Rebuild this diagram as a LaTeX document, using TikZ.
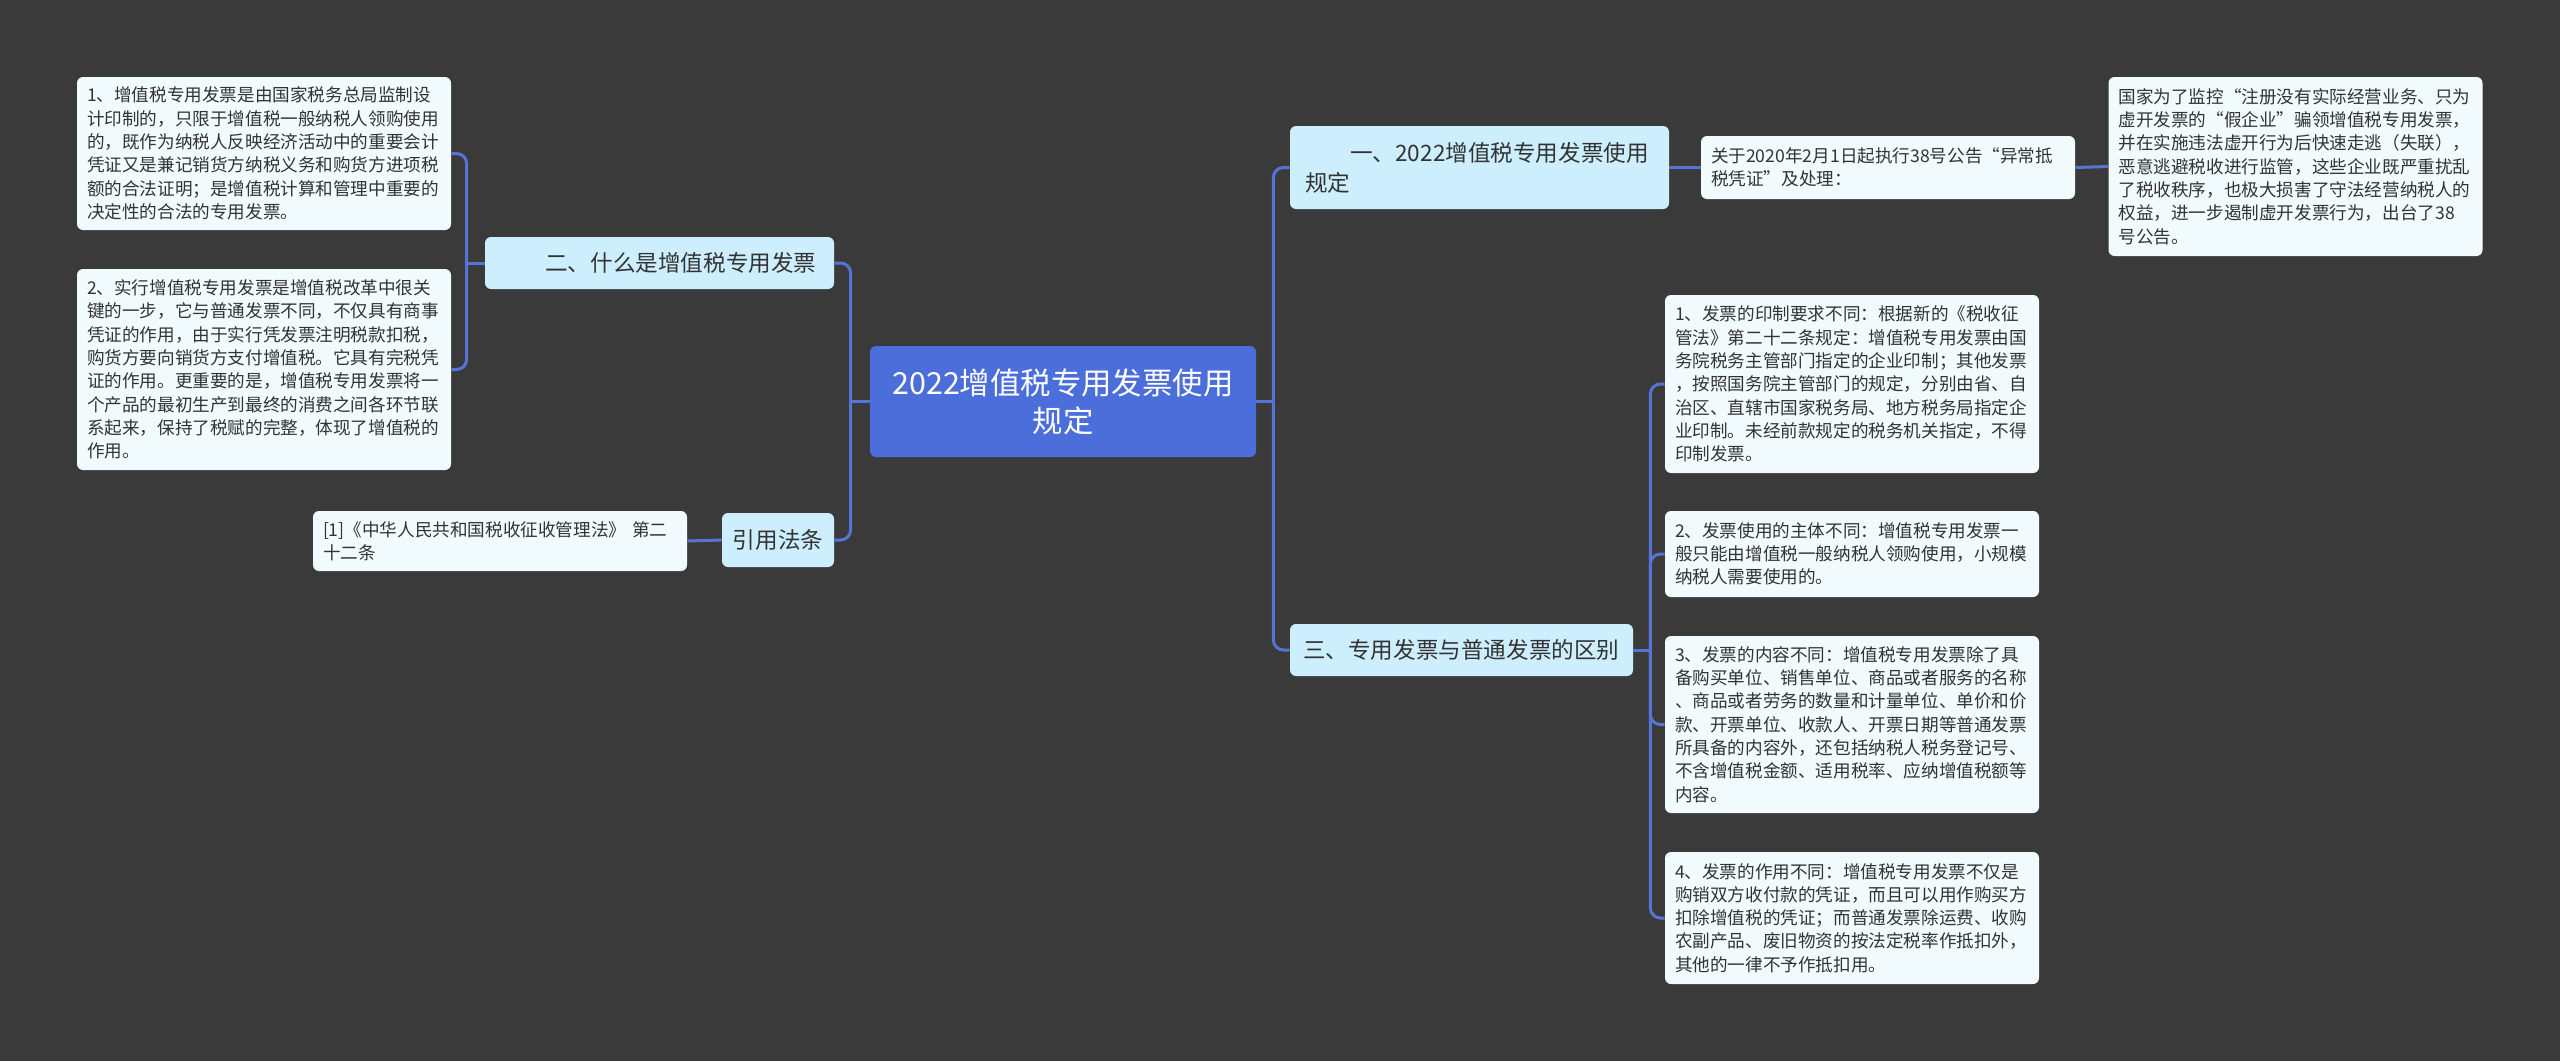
\documentclass[tikz,border=0pt]{standalone}
\usepackage{fontspec}
\setmainfont{Noto Sans CJK SC}
\definecolor{color_canvas}{HTML}{3A3A3A}
\definecolor{color_root}{HTML}{4C6EDB}
\definecolor{color_branch}{HTML}{CCEEFD}
\definecolor{color_leaf}{HTML}{F1FAFC}
\definecolor{color_link}{HTML}{5673D6}
\definecolor{color_text}{HTML}{333333}
\tikzset{
  map_root/.style={fill=color_root, text=white, rounded corners=3pt, align=center, text width=177pt, inner xsep=8pt, minimum height=55.5pt, font=\fontsize{15.2pt}{19pt}\selectfont},
  map_branch/.style={fill=color_branch, text=color_text, rounded corners=3pt, align=left, inner xsep=7.5pt, font=\fontsize{11.3pt}{15pt}\selectfont},
  map_leaf/.style={fill=color_leaf, text=color_text, rounded corners=3pt, align=left, text width=177pt, inner xsep=5pt, font=\fontsize{8.8pt}{11.65pt}\selectfont},
  map_link/.style={draw=color_link, line width=1.5pt, rounded corners=5pt},
}

\begin{document}
\begin{tikzpicture}[x=0.5pt, y=-0.5pt]
    \fill[color_canvas] (0,0) rectangle (2560,1061);
    \useasboundingbox (0,0) rectangle (2560,1061);

    \node[map_root] (core) at (1063,401.5) {2022增值税专用发票使用\\规定};

    % left side
    \node[map_branch, text width=159.5pt, minimum height=26pt] (what) at (659.5,263) {\hspace*{2em}二、什么是增值税专用发票};
    \node[map_branch, align=center, text width=46pt, inner xsep=5pt, minimum height=27pt] (cite) at (778,540) {引用法条};
    \node[map_leaf, minimum height=76.5pt] (what_a) at (264,153.5) {1、增值税专用发票是由国家税务总局监制设\\计印制的，只限于增值税一般纳税人领购使用\\的，既作为纳税人反映经济活动中的重要会计\\凭证又是兼记销货方纳税义务和购货方进项税\\额的合法证明；是增值税计算和管理中重要的\\决定性的合法的专用发票。};
    \node[map_leaf, minimum height=100.5pt] (what_b) at (264,369.5) {2、实行增值税专用发票是增值税改革中很关\\键的一步，它与普通发票不同，不仅具有商事\\凭证的作用，由于实行凭发票注明税款扣税，\\购货方要向销货方支付增值税。它具有完税凭\\证的作用。更重要的是，增值税专用发票将一\\个产品的最初生产到最终的消费之间各环节联\\系起来，保持了税赋的完整，体现了增值税的\\作用。};
    \node[map_leaf, minimum height=30pt] (cite_a) at (500,541) {[1]《中华人民共和国税收征收管理法》 第二\\十二条};

    % right side
    \node[map_branch, text width=174.5pt, minimum height=41.5pt] (rule) at (1479.5,167.5) {\hspace*{2em}一、2022增值税专用发票使用\\规定};
    \node[map_leaf, minimum height=31.5pt] (rule_a) at (1888,167.5) {关于2020年2月1日起执行38号公告“异常抵\\税凭证”及处理：};
    \node[map_leaf, minimum height=89.5pt] (rule_b) at (2295.5,166.5) {国家为了监控“注册没有实际经营业务、只为\\虚开发票的“假企业”骗领增值税专用发票，\\并在实施违法虚开行为后快速走逃（失联），\\恶意逃避税收进行监管，这些企业既严重扰乱\\了税收秩序，也极大损害了守法经营纳税人的\\权益，进一步遏制虚开发票行为，出台了38\\号公告。};
    \node[map_branch, text width=158.5pt, inner xsep=6.5pt, minimum height=26pt] (diff) at (1461.5,650) {三、专用发票与普通发票的区别};
    \node[map_leaf, minimum height=89pt] (diff_a) at (1852,384) {1、发票的印制要求不同：根据新的《税收征\\管法》第二十二条规定：增值税专用发票由国\\务院税务主管部门指定的企业印制；其他发票\\，按照国务院主管部门的规定，分别由省、自\\治区、直辖市国家税务局、地方税务局指定企\\业印制。未经前款规定的税务机关指定，不得\\印制发票。};
    \node[map_leaf, minimum height=43pt] (diff_b) at (1852,554) {2、发票使用的主体不同：增值税专用发票一\\般只能由增值税一般纳税人领购使用，小规模\\纳税人需要使用的。};
    \node[map_leaf, minimum height=88.5pt] (diff_c) at (1852,724.5) {3、发票的内容不同：增值税专用发票除了具\\备购买单位、销售单位、商品或者服务的名称\\、商品或者劳务的数量和计量单位、单价和价\\款、开票单位、收款人、开票日期等普通发票\\所具备的内容外，还包括纳税人税务登记号、\\不含增值税金额、适用税率、应纳增值税额等\\内容。};
    \node[map_leaf, minimum height=66pt] (diff_d) at (1852,918) {4、发票的作用不同：增值税专用发票不仅是\\购销双方收付款的凭证，而且可以用作购买方\\扣除增值税的凭证；而普通发票除运费、收购\\农副产品、废旧物资的按法定税率作抵扣外，\\其他的一律不予作抵扣用。};

    \coordinate (core_r) at ([xshift=8.5pt]core.east);
    \coordinate (core_l) at ([xshift=-9.5pt]core.west);
    \coordinate (what_l) at ([xshift=-9pt]what.west);
    \coordinate (diff_r) at ([xshift=8.5pt]diff.east);

    \draw[map_link] (core.east) -- (core_r);
    \draw[map_link] (core_r) |- (rule.west);
    \draw[map_link] (core_r) |- (diff.west);
    \draw[map_link] (core.west) -- (core_l);
    \draw[map_link] (core_l) |- (what.east);
    \draw[map_link] (core_l) |- (cite.east);

    \draw[map_link] (what.west) -- (what_l);
    \draw[map_link] (what_l) |- (what_a.east);
    \draw[map_link] (what_l) |- (what_b.east);
    \draw[map_link] (cite.west) -- (cite_a.east);

    \draw[map_link] (rule.east) -- (rule_a.west);
    \draw[map_link] (rule_a.east) -- (rule_b.west);
    \draw[map_link] (diff.east) -- (diff_r);
    \foreach \leaf in {diff_a, diff_b, diff_c, diff_d}
      \draw[map_link] (diff_r) |- (\leaf.west);
\end{tikzpicture}
\end{document}
